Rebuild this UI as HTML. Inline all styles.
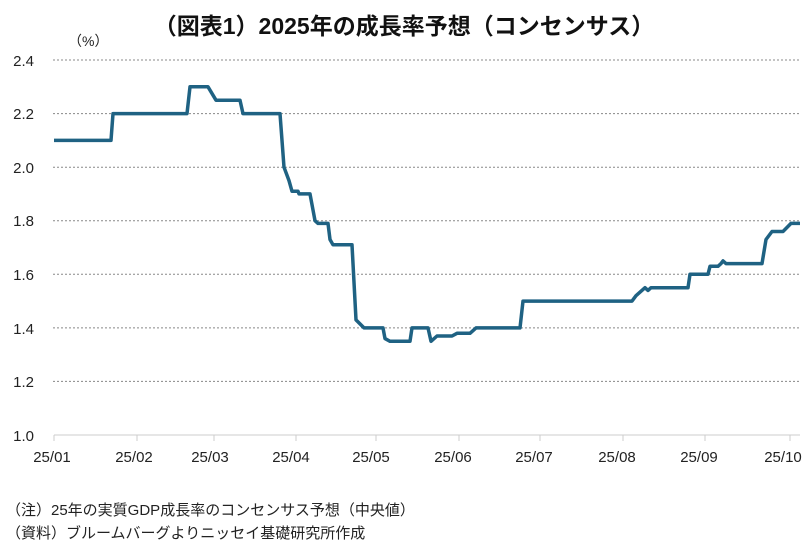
<!DOCTYPE html>
<html><head><meta charset="utf-8"><style>
body{margin:0;background:#fff;width:808px;height:551px;overflow:hidden;font-family:"Liberation Sans","Noto Sans CJK JP",sans-serif;}
</style></head><body>
<svg width="808" height="551" xmlns="http://www.w3.org/2000/svg" style="position:absolute;left:0;top:0">
<text x="404" y="34" text-anchor="middle" font-size="23" font-weight="bold" font-family="Liberation Sans,Noto Sans CJK JP,sans-serif" fill="#111">（図表1）2025年の成長率予想（コンセンサス）</text>
<text x="68" y="46" font-size="14" font-family="Liberation Sans,Noto Sans CJK JP,sans-serif" fill="#222">（%）</text>
<g stroke="#888" stroke-dasharray="2,2" stroke-width="1">
<line x1="53" x2="800" y1="60" y2="60"/><line x1="53" x2="800" y1="113.6" y2="113.6"/><line x1="53" x2="800" y1="167.2" y2="167.2"/><line x1="53" x2="800" y1="220.7" y2="220.7"/><line x1="53" x2="800" y1="274.3" y2="274.3"/><line x1="53" x2="800" y1="327.9" y2="327.9"/><line x1="53" x2="800" y1="381.4" y2="381.4"/>
</g>
<line x1="54" x2="800" y1="435" y2="435" stroke="#ccc"/>
<g stroke="#ccc"><line x1="54" x2="54" y1="435" y2="441"/><line x1="137" x2="137" y1="435" y2="441"/><line x1="214" x2="214" y1="435" y2="441"/><line x1="296" x2="296" y1="435" y2="441"/><line x1="376" x2="376" y1="435" y2="441"/><line x1="459" x2="459" y1="435" y2="441"/><line x1="540" x2="540" y1="435" y2="441"/><line x1="623" x2="623" y1="435" y2="441"/><line x1="705" x2="705" y1="435" y2="441"/><line x1="790" x2="790" y1="435" y2="441"/></g>
<g font-size="15" font-family="Liberation Sans,sans-serif" fill="#222" text-anchor="end">
<text x="34" y="66">2.4</text><text x="34" y="119">2.2</text><text x="34" y="173">2.0</text><text x="34" y="226">1.8</text><text x="34" y="280">1.6</text><text x="34" y="334">1.4</text><text x="34" y="387">1.2</text><text x="34" y="441">1.0</text>
</g>
<g font-size="15" font-family="Liberation Sans,sans-serif" fill="#222" text-anchor="middle">
<text x="52" y="462">25/01</text><text x="134" y="462">25/02</text><text x="210" y="462">25/03</text><text x="291" y="462">25/04</text><text x="371" y="462">25/05</text><text x="453" y="462">25/06</text><text x="534" y="462">25/07</text><text x="617" y="462">25/08</text><text x="699" y="462">25/09</text><text x="783" y="462">25/10</text>
</g>
<polyline fill="none" stroke="#1f6283" stroke-width="3.5" stroke-linejoin="round" points="
54,140.4 111,140.4 113,113.6 187,113.6 190,86.8 208,86.8 216,100.2 240,100.2 243,113.6 280,113.6 284,167.2 289,180.6 292,191.3 298,191.3 299,193.9 310,193.9 315,220.7 318,223.4 328,223.4 330,239.5 333,244.8 352,244.8 356,319.9 364,327.9 383,327.9 385,338.6 390,341.3 410,341.3 412,327.9 428,327.9 431,341.3 437,336.0 452,336.0 457,333.3 470,333.3 476,327.9 520,327.9 523,301.1 632,301.1 636,295.7 645,287.7 648,290.4 651,287.7 688,287.7 690,274.3 708,274.3 710,266.3 718,266.3 721,263.6 723,260.9 726,263.6 762,263.6 766,239.5 772,231.5 783,231.5 791,223.4 800,223.4"/>
<g font-size="15" font-family="Liberation Sans,Noto Sans CJK JP,sans-serif" fill="#222">
<text x="6" y="515">（注）25年の実質GDP成長率のコンセンサス予想（中央値）</text>
<text x="6" y="538">（資料）ブルームバーグよりニッセイ基礎研究所作成</text>
</g>
</svg>
</body></html>
